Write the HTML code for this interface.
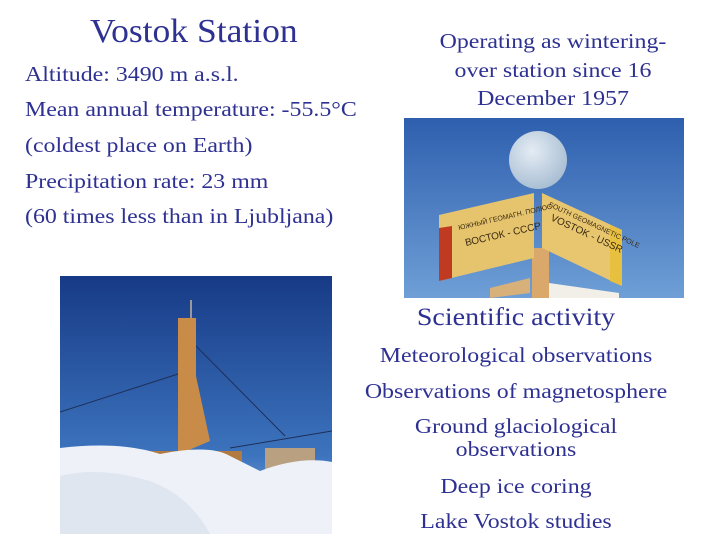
<!DOCTYPE html>
<html><head><meta charset="utf-8"><style>
body{margin:0;width:720px;height:540px;background:#fff;position:relative;overflow:hidden;font-family:"Liberation Serif",serif;color:#2e3192}
.a{position:absolute;white-space:nowrap;transform-origin:left center}
.c{position:absolute;text-align:center;white-space:nowrap;transform-origin:center center}
.t{font-size:21px}
.a.t{transform:scaleX(1.137)}
.c.t{transform:translateX(-50%) scaleX(1.137)}
</style></head><body>
<div class="a" style="left:90px;top:13px;font-size:34px;transform:scaleX(1.045)">Vostok Station</div>
<div>
<div class="a t" style="left:25px;top:62px">Altitude: 3490 m a.s.l.</div>
<div class="a t" style="left:25px;top:97px">Mean annual temperature: -55.5°C</div>
<div class="a t" style="left:25px;top:133px">(coldest place on Earth)</div>
<div class="a t" style="left:25px;top:169px">Precipitation rate: 23 mm</div>
<div class="a t" style="left:25px;top:204px">(60 times less than in Ljubljana)</div>
</div>
<div class="c t" style="left:553px;top:27px;line-height:28.5px">Operating as wintering-<br>over station since 16<br>December 1957</div>

<svg style="position:absolute;left:404px;top:118px" width="280" height="180">
<defs><linearGradient id="s1" x1="0" y1="0" x2="0" y2="1"><stop offset="0" stop-color="#2e5fae"/><stop offset="1" stop-color="#6f9fd6"/></linearGradient>
<radialGradient id="gl" cx="0.4" cy="0.35" r="0.7"><stop offset="0" stop-color="#e4ecf4"/><stop offset="1" stop-color="#a6bcd2"/></radialGradient></defs>
<rect width="280" height="180" fill="url(#s1)"/>
<circle cx="134" cy="42" r="29" fill="url(#gl)"/>
<rect x="128" y="130" width="17" height="50" fill="#d9a86a"/>
<polygon points="86,170 126,160 126,175 86,180" fill="#d8b07a"/>
<polygon points="145,165 215,175 215,180 145,180" fill="#f2eee8"/>
<polygon points="35,97 130,75 130,140 35,163" fill="#e6c46e"/>
<polygon points="35,110 48,108 48,160 35,163" fill="#c03a22"/>
<polygon points="138,75 218,112 218,168 138,130" fill="#e8c670"/>
<polygon points="206,107 218,112 218,168 206,163" fill="#e8c040"/>
<g fill="#3a2a10" font-size="7" font-family="Liberation Sans,sans-serif">
<text x="55" y="112" transform="rotate(-13 55 112)">ЮЖНЫЙ ГЕОМАГН. ПОЛЮС</text>
<text x="62" y="128" font-size="10" transform="rotate(-13 62 128)">ВОСТОК - СССР</text>
<text x="144" y="88" transform="rotate(25 144 88)">SOUTH GEOMAGNETIC POLE</text>
<text x="146" y="102" font-size="10" transform="rotate(25 146 102)">VOSTOK - USSR</text>
</g>
</svg>

<svg style="position:absolute;left:60px;top:276px" width="272" height="258">
<defs><linearGradient id="s2" x1="0" y1="0" x2="0" y2="1"><stop offset="0" stop-color="#173a86"/><stop offset="0.7" stop-color="#3d74be"/><stop offset="1" stop-color="#8fb4de"/></linearGradient></defs>
<rect width="272" height="258" fill="url(#s2)"/>
<path d="M0 136 L118 98 M136 70 L225 160 M170 172 L272 155" stroke="#1e2f5a" stroke-width="1" fill="none"/>
<line x1="131" y1="24" x2="131" y2="42" stroke="#999" stroke-width="2"/>
<polygon points="118,42 136,42 136,100 150,165 122,177 118,177" fill="#c98c48"/>
<rect x="60" y="175" width="122" height="27" fill="#b07a40"/>
<rect x="205" y="172" width="50" height="22" fill="#b9a080"/>
<path d="M0 172 Q60 165 100 178 Q150 168 170 180 L200 195 Q240 180 272 186 L272 258 L0 258 Z" fill="#eef2f8"/>
<path d="M0 200 Q40 190 90 205 Q130 220 150 258 L0 258 Z" fill="#dfe6f0"/>
</svg>

<div class="c" style="left:516px;top:304px;font-size:25px;transform:translateX(-50%) scaleX(1.12)">Scientific activity</div>
<div>
<div class="c t" style="left:516px;top:343px">Meteorological observations</div>
<div class="c t" style="left:516px;top:379px">Observations of magnetosphere</div>
<div class="c t" style="left:516px;top:415px;line-height:23px">Ground glaciological<br>observations</div>
<div class="c t" style="left:516px;top:474px">Deep ice coring</div>
<div class="c t" style="left:516px;top:509px">Lake Vostok studies</div>
</div>
</body></html>
